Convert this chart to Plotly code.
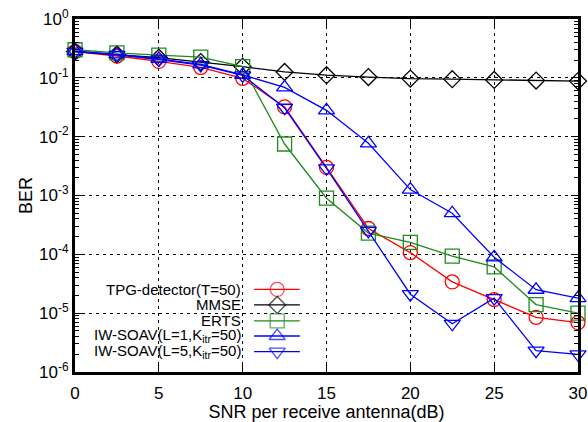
import plotly.graph_objects as go

# SNR points (dB)
snr = [0, 2.5, 5, 7.5, 10, 12.5, 15, 17.5, 20, 22.5, 25, 27.5, 30]

# BER curves
ber_tpg = [0.28, 0.235, 0.19, 0.15, 0.098, 0.032, 0.003, 2.75e-4, 1.07e-4, 3.4e-5, 1.7e-5, 8.5e-6, 6.9e-6]
ber_mmse = [0.28, 0.25, 0.22, 0.185, 0.155, 0.126, 0.111, 0.103, 0.097, 0.095, 0.092, 0.09, 0.088]
ber_erts = [0.30, 0.265, 0.244, 0.225, 0.155, 0.0075, 9.0e-4, 2.3e-4, 1.6e-4, 9.3e-5, 6.1e-5, 1.4e-5, 1.0e-5]
ber_iw1 = [0.285, 0.25, 0.21, 0.17, 0.112, 0.069, 0.028, 0.0077, 0.00126, 5.0e-4, 8.9e-5, 2.5e-5, 1.8e-5]
ber_iw5 = [0.28, 0.245, 0.205, 0.165, 0.11, 0.031, 0.0029, 2.5e-4, 2.1e-5, 6.6e-6, 1.8e-5, 2.3e-6, 2.0e-6]

names = ["TPG-detector(T=50)", "MMSE", "ERTS",
         "IW-SOAV(L=1,K<sub>itr</sub>=50)", "IW-SOAV(L=5,K<sub>itr</sub>=50)"]
colors = ["#ff0000", "#000000", "#1f8a1f", "#0000ff", "#0000ff"]
symbols = ["circle-open", "diamond-open", "square-open", "triangle-up-open", "triangle-down-open"]
sizes = [14, 13, 14, 14, 14]
series = [ber_tpg, ber_mmse, ber_erts, ber_iw1, ber_iw5]

y_ticks = [1, 0.1, 0.01, 1e-3, 1e-4, 1e-5, 1e-6]
y_ticktext = ["10<sup>0</sup>", "10<sup>-1</sup>", "10<sup>-2</sup>", "10<sup>-3</sup>",
              "10<sup>-4</sup>", "10<sup>-5</sup>", "10<sup>-6</sup>"]
y_minor = [m * 10.0 ** e for e in range(-6, 0) for m in range(2, 10)]

fig = go.Figure()
for ys, name, c, s, sz in zip(series, names, colors, symbols, sizes):
    fig.add_trace(go.Scatter(
        x=snr, y=ys, name=name, mode="lines+markers",
        line=dict(color=c, width=1.3),
        marker=dict(symbol=s, size=sz, color=c, line=dict(width=1.3, color=c)),
        showlegend=False, cliponaxis=False,
    ))

# gnuplot-style key: text right-aligned, sample to the right
key_rows = [0.234, 0.190, 0.145, 0.102, 0.0575]
for name, c, s, sz, ky in zip(names, colors, symbols, sizes, key_rows):
    fig.add_annotation(x=0.334, y=ky, xref="paper", yref="paper", text=name,
                       showarrow=False, xanchor="right", yanchor="middle",
                       font=dict(size=15, color="black"))
    fig.add_trace(go.Scatter(
        x=[0.356, 0.402, 0.447], y=[ky, ky, ky], xaxis="x2", yaxis="y2",
        mode="lines+markers", line=dict(color=c, width=1.3),
        marker=dict(symbol=s, size=[0, sz, 0], color=c, line=dict(width=1.3, color=c)),
        showlegend=False, hoverinfo="skip",
    ))

# opaque key box hides the grid behind the key
fig.add_shape(type="rect", xref="paper", yref="paper", x0=0.003, x1=0.457, y0=0.003, y1=0.258,
              fillcolor="white", line=dict(width=0), layer="between")

fig.update_layout(
    width=588, height=422,
    margin=dict(l=75, r=10, t=19, b=50),
    plot_bgcolor="white", paper_bgcolor="white",
    font=dict(family="Liberation Sans, Arial, sans-serif", size=17, color="black"),
    xaxis=dict(
        range=[0, 30], tickvals=[0, 5, 10, 15, 20, 25, 30],
        title=dict(text="SNR per receive antenna(dB)", standoff=0, font=dict(size=18)),
        showline=True, linewidth=3, linecolor="black", mirror="ticks",
        ticks="inside", ticklen=7, tickcolor="black", tickwidth=1.2,
        showgrid=True, gridcolor="black", gridwidth=1, griddash="3px,4px",
        zeroline=False, ticklabelstandoff=4, automargin=False,
    ),
    yaxis=dict(
        type="log", range=[-6, 0], tickvals=y_ticks, ticktext=y_ticktext,
        title=dict(text="BER", standoff=2, font=dict(size=18)),
        showline=True, linewidth=3, linecolor="black", mirror="ticks",
        ticks="inside", ticklen=7, tickcolor="black", tickwidth=1.2,
        showgrid=True, gridcolor="black", gridwidth=1, griddash="3px,4px",
        minor=dict(tickvals=y_minor, ticks="inside", ticklen=4, tickcolor="black", showgrid=False),
        zeroline=False, automargin=False,
    ),
    xaxis2=dict(range=[0, 1], overlaying="x", visible=False, fixedrange=True),
    yaxis2=dict(range=[0, 1], overlaying="y", visible=False, fixedrange=True),
)

fig.write_html("out.html", config={"displayModeBar": False},
               post_script="document.body.style.margin='0';")
